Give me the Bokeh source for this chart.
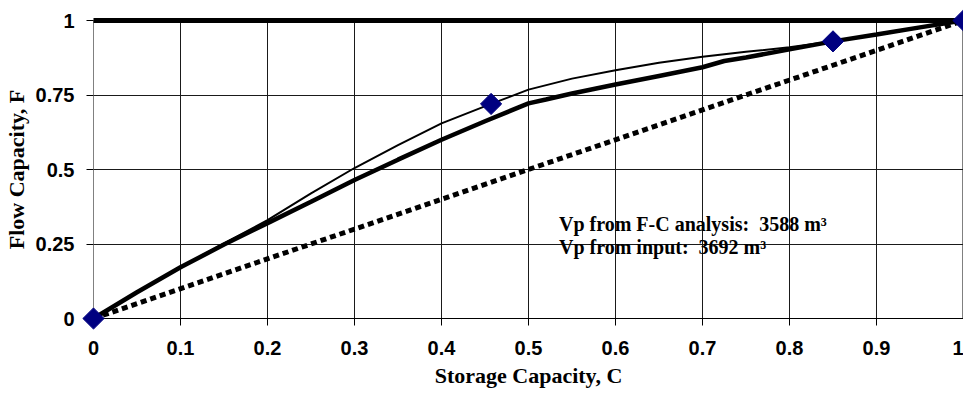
from math import pi
from bokeh.plotting import figure
from bokeh.models import Range1d, FixedTicker, Label
from bokeh.embed import file_html
from bokeh.resources import INLINE

# ---------------- data ----------------
x_ticks = [0, 0.1, 0.2, 0.3, 0.4, 0.5, 0.6, 0.7, 0.8, 0.9, 1]
x_tick_labels = ["0", "0.1", "0.2", "0.3", "0.4", "0.5", "0.6", "0.7", "0.8", "0.9", "1"]
y_ticks = [0, 0.25, 0.5, 0.75, 1]
y_tick_labels = ["0", "0.25", "0.5", "0.75", "1"]

# layer points (diamonds)
point_c = [0.0, 0.457, 0.85, 1.0]
point_f = [0.0, 0.72, 0.93, 1.0]

# smoothed curve through the points (thin line)
smooth_c = [0.0, 0.05, 0.1, 0.15, 0.2, 0.25, 0.3, 0.35, 0.4, 0.457, 0.5, 0.55, 0.6,
            0.65, 0.7, 0.75, 0.8, 0.85, 0.9, 0.95, 1.0]
smooth_f = [0.0, 0.088, 0.172, 0.252, 0.33, 0.42, 0.505, 0.582, 0.655, 0.72, 0.768, 0.805,
            0.833, 0.858, 0.878, 0.895, 0.91, 0.93, 0.955, 0.978, 1.0]

# F-C curve (thick line)
fc_c = [0.0, 0.05, 0.1, 0.15, 0.2, 0.25, 0.3, 0.35, 0.4, 0.45, 0.5, 0.52, 0.55, 0.6,
        0.65, 0.7, 0.725, 0.75, 0.8, 0.85, 0.9, 0.95, 1.0]
fc_f = [0.0, 0.088, 0.172, 0.248, 0.32, 0.392, 0.465, 0.533, 0.6, 0.662, 0.722, 0.735,
        0.755, 0.785, 0.814, 0.843, 0.864, 0.876, 0.903, 0.93, 0.953, 0.977, 1.0]

# homogeneous (diagonal) line and upper limit line
diag_c = [0.0, 1.0]
diag_f = [0.0, 1.0]
top_c = [0.0, 1.0]
top_f = [1.0, 1.0]

vp_fc = 3588
vp_input = 3692

# ---------------- figure ----------------
p = figure(width=963, height=395, output_backend="svg", toolbar_location=None,
           x_range=Range1d(0, 1), y_range=Range1d(0, 1),
           min_border_left=93, min_border_right=0, min_border_top=20, min_border_bottom=77)
p.background_fill_color = "white"
p.border_fill_color = "white"
p.outline_line_color = "#808080"
p.outline_line_width = 1

tick_font = "Liberation Sans"
title_font = "Liberation Serif"

for ax, ticks, labels in ((p.xaxis[0], x_ticks, x_tick_labels), (p.yaxis[0], y_ticks, y_tick_labels)):
    ax.ticker = FixedTicker(ticks=ticks)
    ax.major_label_overrides = {t: l for t, l in zip(ticks, labels)}
    ax.major_tick_out = 7
    ax.major_tick_in = 0
    ax.major_tick_line_color = "black"
    ax.minor_tick_line_color = None
    ax.major_label_text_font = tick_font
    ax.major_label_text_font_style = "bold"
    ax.major_label_text_font_size = "20px"
    ax.major_label_text_color = "black"
    ax.axis_label_text_font = title_font
    ax.axis_label_text_font_style = "bold"
    ax.axis_label_text_font_size = "22px"
    ax.axis_label_text_color = "black"

p.xaxis.axis_label = "Storage Capacity, C"
p.yaxis.axis_label = "Flow Capacity, F"
p.xaxis.axis_line_color = "black"
p.yaxis.axis_line_color = "#808080"
p.xaxis.major_label_standoff = 15
p.yaxis.major_label_standoff = 12
p.xaxis.axis_label_standoff = 5
p.yaxis.axis_label_standoff = 4

p.xgrid.ticker = FixedTicker(ticks=x_ticks)
p.ygrid.ticker = FixedTicker(ticks=y_ticks)
for g in (p.xgrid, p.ygrid):
    g.grid_line_color = "#1a1a1a"
    g.grid_line_width = 1

# ---------------- glyphs ----------------
p.line(top_c, top_f, line_color="black", line_width=5, level="overlay")
p.line(diag_c, diag_f, line_color="black", line_width=5, line_dash="6 4", level="overlay")
p.line(smooth_c, smooth_f, line_color="black", line_width=2, level="overlay")
p.line(fc_c, fc_f, line_color="black", line_width=4.5, level="overlay")
p.scatter(point_c, point_f, marker="square", angle=pi / 4, size=15,
          fill_color="#000080", line_color="#000080", level="overlay")

# ---------------- annotations ----------------
for txt, yy in ((f"Vp from F-C analysis:\u00a0 {vp_fc} m\u00b3", 0.318),
                (f"Vp from input:\u00a0 {vp_input} m\u00b3", 0.239)):
    p.add_layout(Label(x=0.535, y=yy, text=txt, text_font=title_font,
                       text_font_style="bold", text_font_size="20px",
                       text_color="black", text_baseline="alphabetic"))

open("out.html", "w").write(file_html(p, INLINE))
